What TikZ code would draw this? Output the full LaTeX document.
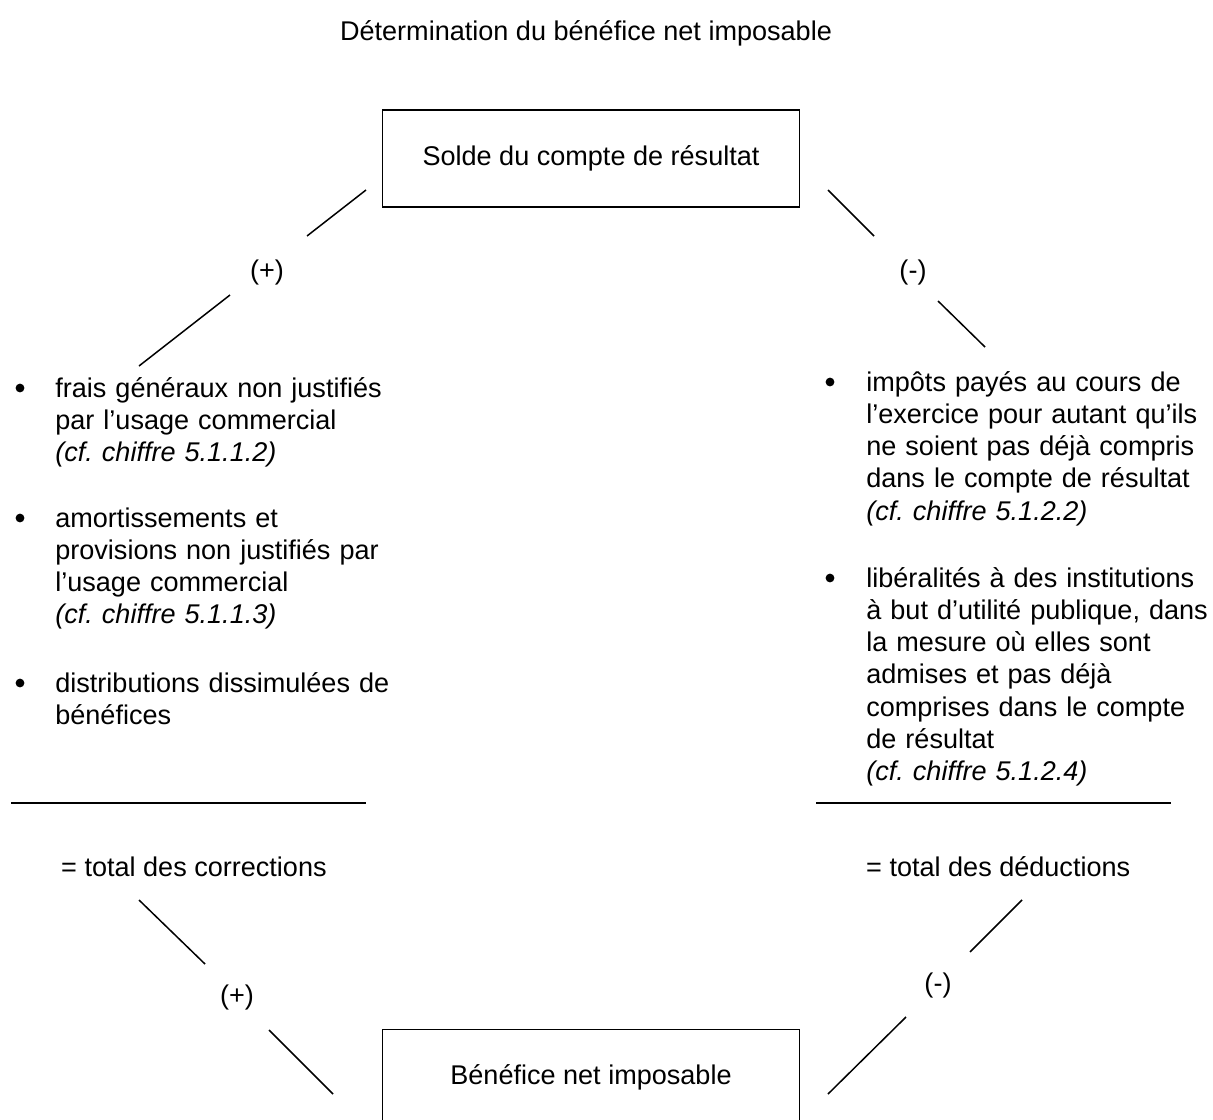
\documentclass[tikz,border=0pt]{standalone}
\usepackage{fontspec}
\setmainfont{Liberation Sans}
\frenchspacing

\begin{document}
\begin{tikzpicture}[x=0.02cm, y=-0.02cm, font=\fontsize{15.4}{18.4}\selectfont,
    cadre/.style={draw, line width=0.6pt, minimum width=8.36cm, minimum height=1.94cm},
    liste/.style={anchor=base west, text width=7cm, align=left, inner sep=0pt},
    signe/.style={inner sep=1pt},
    trait/.style={line width=0.85pt}]
    \useasboundingbox (0,0) rectangle (1213,1119);

    \node[anchor=base] (titre) at (586,40) {Détermination du bénéfice net imposable};
    \node[cadre] (solde) at (591,158.5) {Solde du compte de résultat};
    \node[cadre] (benef) at (591,1077.8) {Bénéfice net imposable};

    % corrections (gauche)
    \node[liste] (ajout1) at (55,397) {frais généraux non justifiés\\par l’usage commercial\\\textit{(cf. chiffre 5.1.1.2)}};
    \node[liste] (ajout2) at (55,527) {amortissements et\\provisions non justifiés par\\l’usage commercial\\\textit{(cf. chiffre 5.1.1.3)}};
    \node[liste] (ajout3) at (55,692) {distributions dissimulées de\\bénéfices};
    \foreach \y in {388,518,683}
        \fill (20,\y) circle[radius=2.5pt];

    % déductions (droite)
    \node[liste] (deduc1) at (866,391) {impôts payés au cours de\\l’exercice pour autant qu’ils\\ne soient pas déjà compris\\dans le compte de résultat\\\textit{(cf. chiffre 5.1.2.2)}};
    \node[liste] (deduc2) at (866,587) {libéralités à des institutions\\à but d’utilité publique, dans\\la mesure où elles sont\\admises et pas déjà\\comprises dans le compte\\de résultat\\\textit{(cf. chiffre 5.1.2.4)}};
    \foreach \y in {382,578}
        \fill (830,\y) circle[radius=2.5pt];

    % totaux
    \coordinate (g1) at (11,803);
    \coordinate (g2) at (366,803);
    \coordinate (d1) at (816,803);
    \coordinate (d2) at (1171,803);
    \draw[trait] (g1) -- (g2);
    \draw[trait] (d1) -- (d2);
    \node[anchor=base west] (totcorr) at (55,876) {= total des corrections};
    \node[anchor=base west] (totdeduc) at (860,876) {= total des déductions};

    % signes
    \node[signe] (plushaut) at (267,272) {(+)};
    \node[signe] (moinshaut) at (913,272) {(-)};
    \node[signe] (plusbas) at (237,997) {(+)};
    \node[signe] (moinsbas) at (938,985) {(-)};

    % traits obliques
    \coordinate (a1) at (366,190);  \coordinate (a2) at (307,236);
    \coordinate (a3) at (230,295);  \coordinate (a4) at (139,366);
    \coordinate (b1) at (828,190);  \coordinate (b2) at (874,236);
    \coordinate (b3) at (938,301);  \coordinate (b4) at (985,347);
    \coordinate (c1) at (139,900);  \coordinate (c2) at (205,964);
    \coordinate (c3) at (269,1030); \coordinate (c4) at (333,1094);
    \coordinate (e1) at (1022,900); \coordinate (e2) at (970,952);
    \coordinate (e3) at (906,1017); \coordinate (e4) at (828,1094);
    \draw[trait] (a1) -- (a2);
    \draw[trait] (a3) -- (a4);
    \draw[trait] (b1) -- (b2);
    \draw[trait] (b3) -- (b4);
    \draw[trait] (c1) -- (c2);
    \draw[trait] (c3) -- (c4);
    \draw[trait] (e1) -- (e2);
    \draw[trait] (e3) -- (e4);
\end{tikzpicture}
\end{document}
